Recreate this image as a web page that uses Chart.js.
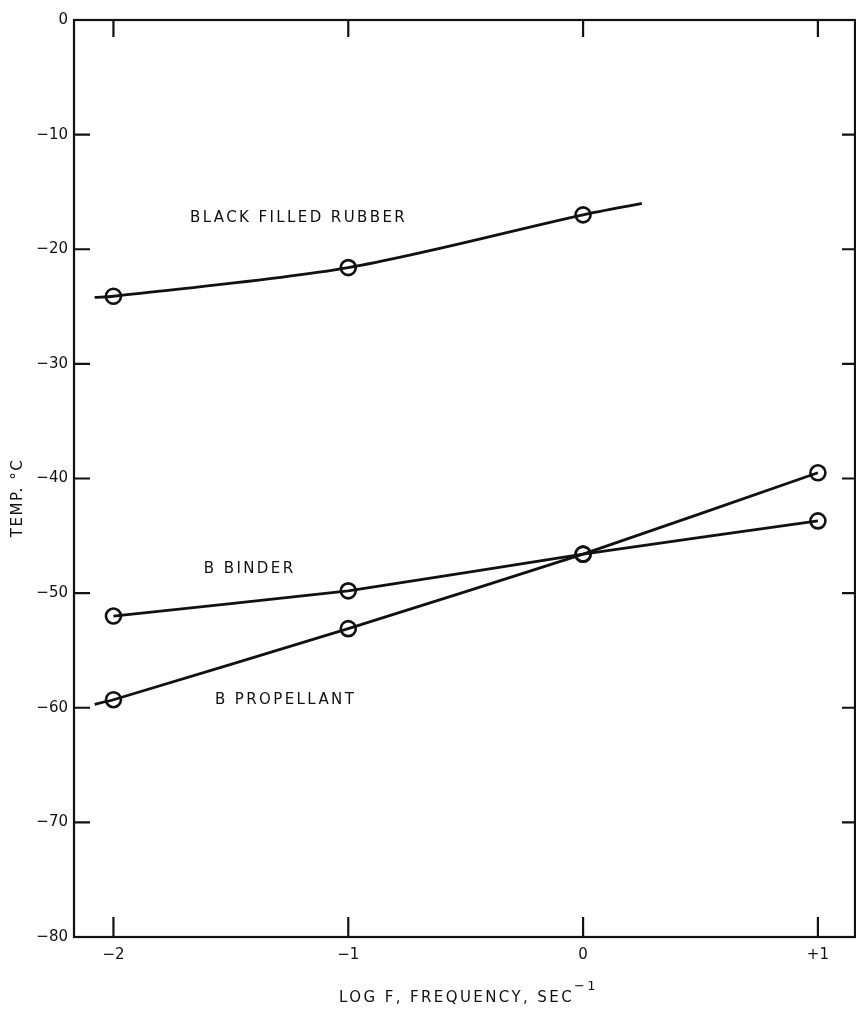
<!DOCTYPE html>
<html>
<head>
<meta charset="utf-8">
<script src="https://cdn.jsdelivr.net/npm/chart.js@4.4.1/dist/chart.umd.min.js"></script>
<style>
    html, body { margin: 0; padding: 0; background: #fff; overflow: hidden; }
    #wrap { width: 856px; height: 1009px; position: relative; overflow: hidden; }
    #wrap canvas { display: block; }
</style>
</head>
<body>
<div id="wrap"><canvas id="tempChart"></canvas></div>
<script>
// Transition temperature vs log frequency
const freqTicks = [-2, -1, 0, 1];
const tempTicks = [0, -10, -20, -30, -40, -50, -60, -70, -80];

const rubberLogF = [-2, -1, 0];
const rubberTemp = [-24.1, -21.6, -17.0];
const binderLogF = [-2, -1, 0, 1];
const binderTemp = [-52.0, -49.8, -46.6, -43.7];
const propLogF = [-2, -1, 0, 1];
const propTemp = [-59.3, -53.1, -46.6, -39.5];

// faired curves run a little past the measured points
const rubberCurveStart = [-2.08, -24.2];
const rubberCurveEnd = [0.25, -16.0];
const propLineStart = [-2.08, -59.7];

const seriesNames = ['BLACK FILLED RUBBER', 'B BINDER', 'B PROPELLANT'];

const INK = '#111';
const FONT = '"DejaVu Sans", "Liberation Sans", sans-serif';

function pts(xs, ys) {
    return xs.map((x, i) => ({ x: x, y: ys[i] }));
}

function curve(points, tension) {
    return {
        data: points,
        showLine: true,
        borderColor: INK,
        borderWidth: 2.8,
        pointRadius: 0,
        tension: tension,
        fill: false
    };
}

function markers(points) {
    return {
        data: points,
        showLine: false,
        pointStyle: 'circle',
        pointRadius: 7.5,
        pointBorderWidth: 2.6,
        pointBorderColor: INK,
        pointBackgroundColor: 'rgba(0,0,0,0)'
    };
}

const rubberPts = pts(rubberLogF, rubberTemp);
const binderPts = pts(binderLogF, binderTemp);
const propPts = pts(propLogF, propTemp);

const rubberLine = [{ x: rubberCurveStart[0], y: rubberCurveStart[1] }]
    .concat(rubberPts, [{ x: rubberCurveEnd[0], y: rubberCurveEnd[1] }]);
const propLine = [{ x: propLineStart[0], y: propLineStart[1] }].concat(propPts);

// frame, inward tick marks and hand-lettered labels
const framePlugin = {
    id: 'frame',
    afterDraw(chart) {
        const ctx = chart.ctx;
        const a = chart.chartArea;
        const xs = chart.scales.x;
        const ys = chart.scales.y;
        ctx.save();
        ctx.strokeStyle = INK;
        ctx.lineWidth = 2.2;
        ctx.strokeRect(a.left, a.top, a.right - a.left, a.bottom - a.top);

        ctx.beginPath();
        tempTicks.forEach(v => {
            if (v === 0 || v === -80) return;
            const py = ys.getPixelForValue(v);
            ctx.moveTo(a.left, py); ctx.lineTo(a.left + 16, py);
            ctx.moveTo(a.right, py); ctx.lineTo(a.right - 13, py);
        });
        freqTicks.forEach(v => {
            const px = xs.getPixelForValue(v);
            ctx.moveTo(px, a.bottom); ctx.lineTo(px, a.bottom - 20);
            ctx.moveTo(px, a.top); ctx.lineTo(px, a.top + 17);
        });
        ctx.stroke();

        ctx.fillStyle = INK;
        ctx.font = '15px ' + FONT;
        ctx.letterSpacing = '2.4px';
        ctx.textBaseline = 'middle';
        ctx.textAlign = 'left';

        // series names
        const namePos = [[-1.674, -17.3], [-1.615, -47.9], [-1.568, -59.3]];
        seriesNames.forEach((name, i) => {
            ctx.fillText(name, xs.getPixelForValue(namePos[i][0]), ys.getPixelForValue(namePos[i][1]));
        });

        // x axis title with superscript
        const main = 'LOG F, FREQUENCY, SEC';
        const sup = '\u22121';
        ctx.font = '15px ' + FONT;
        const w1 = ctx.measureText(main).width;
        ctx.font = '13px ' + FONT;
        const w2 = ctx.measureText(sup).width;
        let x0 = (a.left + a.right) / 2 + 4 - (w1 + w2) / 2;
        ctx.font = '15px ' + FONT;
        ctx.fillText(main, x0, 998);
        ctx.font = '13px ' + FONT;
        ctx.fillText(sup, x0 + w1, 987);

        // y axis title
        ctx.font = '15px ' + FONT;
        ctx.letterSpacing = '1.6px';
        ctx.translate(18, 498);
        ctx.rotate(-Math.PI / 2);
        ctx.textAlign = 'center';
        ctx.fillText('TEMP. \u00B0C', 0, 0);
        ctx.restore();
    }
};

function fmtTick(v) {
    if (v === 0) return '0';
    return (v < 0 ? '\u2212' : '+') + Math.abs(v);
}

new Chart(document.getElementById('tempChart').getContext('2d'), {
    type: 'scatter',
    data: {
        datasets: [
            curve(rubberLine, 0.3),
            markers(rubberPts),
            curve(binderPts, 0.1),
            markers(binderPts),
            curve(propLine, 0.1),
            markers(propPts)
        ]
    },
    options: {
        responsive: true,
        maintainAspectRatio: false,
        animation: false,
        layout: {
            autoPadding: false,
            padding: { top: 20, right: 1, left: 0, bottom: 0 }
        },
        plugins: {
            legend: { display: false },
            tooltip: { enabled: false }
        },
        scales: {
            x: {
                type: 'linear',
                min: -2.168,
                max: 1.158,
                afterBuildTicks: s => { s.ticks = freqTicks.map(v => ({ value: v })); },
                afterFit: s => { s.height = 72; s.paddingLeft = 0; s.paddingRight = 0; },
                grid: { display: false, drawTicks: false },
                border: { display: false },
                ticks: {
                    color: INK,
                    padding: 9,
                    font: { family: FONT, size: 15 },
                    callback: fmtTick
                }
            },
            y: {
                type: 'linear',
                min: -80,
                max: 0,
                afterBuildTicks: s => { s.ticks = tempTicks.map(v => ({ value: v })); },
                afterFit: s => { s.width = 74; s.paddingTop = 0; s.paddingBottom = 0; },
                grid: { display: false, drawTicks: false },
                border: { display: false },
                ticks: {
                    color: INK,
                    padding: 6,
                    font: { family: FONT, size: 15 },
                    callback: fmtTick
                }
            }
        }
    },
    plugins: [framePlugin]
});
</script>
</body>
</html>
